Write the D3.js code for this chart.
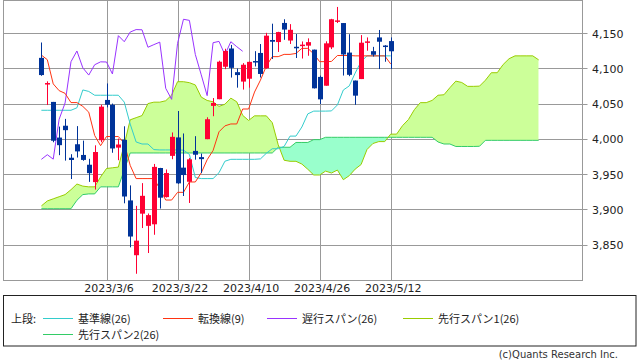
<!DOCTYPE html>
<html><head><meta charset="utf-8">
<script src="https://cdn.jsdelivr.net/npm/d3@7"></script>
<style>body{margin:0;background:#fff;} svg{display:block;}</style>
</head><body>
<svg id="c" width="639" height="362"></svg>
<script>
const dates = ["2023/2/16","2023/2/17","2023/2/21","2023/2/22","2023/2/23","2023/2/24","2023/2/27","2023/2/28","2023/3/1","2023/3/2",
"2023/3/3","2023/3/6","2023/3/7","2023/3/8","2023/3/9","2023/3/10","2023/3/13","2023/3/14","2023/3/15","2023/3/16",
"2023/3/17","2023/3/20","2023/3/21","2023/3/22","2023/3/23","2023/3/24","2023/3/27","2023/3/28","2023/3/29","2023/3/30",
"2023/3/31","2023/4/3","2023/4/4","2023/4/5","2023/4/6","2023/4/10","2023/4/11","2023/4/12","2023/4/13","2023/4/14",
"2023/4/17","2023/4/18","2023/4/19","2023/4/20","2023/4/21","2023/4/24","2023/4/25","2023/4/26","2023/4/27","2023/4/28",
"2023/5/1","2023/5/2","2023/5/3","2023/5/4","2023/5/5","2023/5/8","2023/5/9","2023/5/10","2023/5/11","2023/5/12"];

const open = [4114.75,4077.39,4052.35,4001.83,4018.60,3973.24,3992.36,3977.19,3963.34,3938.68,
3998.02,4055.15,4048.26,3987.55,3998.66,3912.77,3835.12,3894.01,3876.74,3878.93,
3958.69,3917.47,3975.89,4002.04,3959.21,3939.21,3982.93,3974.13,3999.53,4046.74,
4056.18,4102.20,4128.03,4094.50,4081.15,4085.20,4110.29,4121.72,4100.04,4140.11,
4137.17,4164.26,4139.33,4130.48,4132.14,4132.07,4126.43,4087.78,4075.29,4129.63,
4166.79,4164.10,4122.25,4082.61,4084.73,4136.98,4124.25,4143.74,4132.24,4138.54];
const high = [4136.54,4081.51,4052.35,4017.37,4028.30,3978.25,4018.05,3997.50,3971.73,3990.84,
4048.29,4078.49,4050.00,4000.41,4017.81,3934.05,3905.05,3937.29,3894.26,3964.46,
3958.91,3956.62,4009.08,4039.49,4007.66,3972.74,4003.83,3979.20,4030.59,4057.85,
4110.75,4127.66,4133.13,4099.69,4107.32,4109.50,4124.26,4134.37,4150.26,4163.19,
4151.72,4169.48,4162.57,4148.57,4138.02,4142.41,4126.43,4089.67,4138.24,4170.06,
4186.92,4164.10,4148.30,4082.61,4147.02,4143.74,4130.35,4154.28,4132.80,4143.74];
const low = [4089.37,4047.95,3995.19,3976.90,3969.19,3943.08,3973.55,3968.98,3939.05,3928.16,
3995.17,4044.61,3980.31,3969.76,3908.70,3846.32,3808.86,3873.63,3838.24,3864.11,
3901.27,3916.89,3971.19,3936.17,3919.05,3909.16,3970.49,3951.53,3999.53,4032.10,
4056.18,4098.79,4086.87,4072.56,4069.84,4072.55,4102.61,4086.94,4099.40,4113.20,
4123.18,4140.36,4134.49,4114.57,4113.86,4117.77,4071.38,4049.35,4075.29,4127.18,
4164.12,4089.72,4088.86,4048.28,4084.73,4124.91,4116.65,4098.92,4109.29,4099.12];
const close = [4090.41,4079.09,3997.34,3991.05,4012.32,3970.04,3982.24,3970.15,3951.39,3981.35,
4045.64,4048.42,3986.37,3992.01,3918.32,3861.59,3855.76,3919.29,3891.93,3960.28,
3916.64,3951.57,4002.87,3936.97,3948.72,3970.99,3977.53,3971.27,4027.81,4050.83,
4109.31,4124.51,4100.60,4090.38,4105.02,4109.11,4108.94,4091.95,4146.22,4137.64,
4151.32,4154.87,4154.52,4129.79,4133.52,4137.04,4071.63,4055.99,4135.35,4169.48,
4167.87,4119.58,4090.75,4061.22,4136.25,4138.12,4119.17,4137.64,4130.62,4124.08];

// 転換線(9)
const tenkan = [4118.7,4112.2,4077.9,4068.3,4064.5,4051.4,4051.4,4046.0,4037.8,4004.8,
3990.3,4003.3,4003.3,4003.3,3993.6,3962.4,3943.7,3943.7,3943.7,3943.7,
3929.4,3913.3,3913.3,3924.2,3924.2,3938.9,3938.9,3951.8,3970.4,3983.5,
4010.0,4018.4,4021.1,4021.1,4042.3,4042.3,4066.3,4083.2,4103.2,4116.5,
4116.5,4119.7,4119.7,4121.0,4128.2,4128.2,4120.4,4109.4,4109.4,4109.7,
4118.1,4118.1,4118.1,4117.6,4117.6,4117.6,4117.6,4117.6,4117.6,4106.2];
// 基準線(26)
const kijun = [4040.5,4040.5,4040.5,4040.5,4040.5,4040.5,4044.0,4069.3,4067.2,4061.8,
4061.8,4061.8,4061.8,4061.8,4052.1,4020.9,3995.6,3992.7,3992.7,3984.8,
3984.3,3984.3,3984.3,3984.3,3984.0,3978.0,3945.2,3943.7,3943.7,3943.7,
3952.0,3968.3,3971.0,3971.0,3971.0,3971.0,3971.0,3971.6,3979.6,3986.0,
3986.0,3989.2,4003.9,4003.9,4016.8,4035.4,4039.3,4039.3,4039.3,4039.6,
4048.0,4069.2,4075.0,4093.2,4109.5,4117.6,4117.6,4117.6,4117.6,4117.6];
// 遅行スパン(26)
const chikou = [3970.99,3977.53,3971.27,4027.81,4050.83,4109.31,4124.51,4100.60,4090.38,4105.02,
4109.11,4108.94,4091.95,4146.22,4137.64,4151.32,4154.87,4154.52,4129.79,4133.52,
4137.04,4071.63,4055.99,4135.35,4169.48,4167.87,4119.58,4090.75,4061.22,4136.25,
4138.12,4119.17,4137.64,4130.62,4124.08];
// 先行スパン1(26)
const senkouA = [3905,3912,3915,3918,3921,3928,3936,3933,3932,3932,
3946,3958,3959,3960,3992,4027,4030,4033,4050,4052,
4052,4054,4062,4081,4081,
4079.6,4076.4,4059.2,4054.4,4052.5,4046.0,4049.1,4057.7,4052.5,4033.3,
4026.1,4032.6,4032.6,4032.6,4022.9,3991.7,3969.7,3968.2,3968.2,3964.3,
3956.9,3948.8,3948.8,3954.3,3951.6,3955.8,3942.1,3947.8,3957.1,3963.6,
3984.9,3993.4,3996.1,3996.1,4006.7,4006.7,4018.7,4027.4,4041.4,4051.3,
4051.3,4054.5,4061.8,4062.5,4072.5,4081.8,4079.9,4074.4,4074.4,4074.7,
4083.1,4093.7,4093.7,4105.4,4113.6,4117.6,4117.6,4117.6,4117.6,4111.9];
// 先行スパン2(26)
const senkouB = [3901,3901,3901,3901,3901,3901,3913,3921,3922,3922,
3932,3932,3932,3932,3956,3980,3980,3980,3980,3980,
3980,3980,3980,3980,3980,
3980,3980,3980,3980,3980,3980,3980,3980,3980,3980,
3980,3980,3980,3980,3980,3988.1,3988.1,3988.1,3994.9,3994.9,
3994.9,3998.9,3998.9,4002.2,4002.2,4002.2,4002.2,4002.2,4002.2,4002.2,
4002.2,4002.2,4002.2,4002.2,4002.2,4002.2,4002.2,4002.2,4002.2,4002.2,
4002.2,4002.2,3995.6,3992.7,3992.7,3989.2,3989.2,3989.2,3989.2,3989.5,
3997.9,3997.9,3997.9,3997.9,3997.9,3997.9,3997.9,3997.9,3997.9,3997.9];

const xTickLabels = ["2023/3/6","2023/3/22","2023/4/10","2023/4/26","2023/5/12"];
const yTicks = [3850,3900,3950,4000,4050,4100,4150];

const legendItems = [
  {label:"基準線(26)", color:"#33cccc", x:43, row:0},
  {label:"転換線(9)", color:"#ff3311", x:163, row:0},
  {label:"遅行スパン(26)", color:"#9933ff", x:267, row:0},
  {label:"先行スパン1(26)", color:"#99cc00", x:403, row:0},
  {label:"先行スパン2(26)", color:"#33cc66", x:43, row:1}
];

const svg = d3.select("#c");
const L = 3.5, R = 582.5, T = 0.5, B = 280.5;
const x = d3.scaleLinear().domain([-6.4, 91.4]).range([L, R]);
const y = d3.scaleLinear().domain([3800, 4150]).range([280, 33]);
const FONT = "'DejaVu Sans', Verdana, sans-serif";
const JFONT = "'Noto Sans CJK JP', 'DejaVu Sans', sans-serif";

svg.append("defs").append("clipPath").attr("id","plot")
  .append("rect").attr("x",L).attr("y",T).attr("width",R-L).attr("height",B-T);

// gridlines
const gy = svg.append("g");
yTicks.forEach(v => {
  const yy = Math.round(y(v)) + 0.5;
  gy.append("line").attr("x1",L).attr("x2",R+5).attr("y1",yy).attr("y2",yy)
    .attr("stroke","#999").attr("stroke-width",1);
});
const xTickIdx = xTickLabels.map(l => dates.indexOf(l));
xTickIdx.forEach(i => {
  const xx = Math.round(x(i)) + 0.5;
  gy.append("line").attr("x1",xx).attr("x2",xx).attr("y1",T).attr("y2",B)
    .attr("stroke","#999").attr("stroke-width",1);
});

// cloud
const js = d3.range(senkouA.length);
const defs = svg.select("defs");
defs.append("clipPath").attr("id","above").append("path")
  .attr("d", d3.area().x(j=>x(j)).y0(0).y1(j=>y(senkouB[j]))(js));
defs.append("clipPath").attr("id","below").append("path")
  .attr("d", d3.area().x(j=>x(j)).y0(300).y1(j=>y(senkouB[j]))(js));
const cloud = d3.area().x(j=>x(j)).y0(j=>y(senkouB[j])).y1(j=>y(senkouA[j]));
const pg = svg.append("g").attr("clip-path","url(#plot)");
pg.append("path").attr("d", cloud(js)).attr("fill","#ccff99").attr("clip-path","url(#above)");
pg.append("path").attr("d", cloud(js)).attr("fill","#99ffcc").attr("clip-path","url(#below)");

const line = arr => d3.line().x((d,i)=>x(i)).y(d=>y(d))(arr);
pg.append("path").attr("d", line(senkouB)).attr("fill","none").attr("stroke","#33cc66").attr("stroke-width",1);
pg.append("path").attr("d", line(senkouA)).attr("fill","none").attr("stroke","#99cc00").attr("stroke-width",1);
pg.append("path").attr("d", line(kijun)).attr("fill","none").attr("stroke","#33cccc").attr("stroke-width",1);
pg.append("path").attr("d", line(chikou)).attr("fill","none").attr("stroke","#9933ff").attr("stroke-width",1);
pg.append("path").attr("d", line(tenkan)).attr("fill","none").attr("stroke","#ff3311").attr("stroke-width",1);

// candles
const cg = pg.append("g");
d3.range(dates.length).forEach(i => {
  const up = close[i] >= open[i];
  const col = up ? "#ff0033" : "#003399";
  const cx = Math.round(x(i));
  cg.append("rect").attr("x", cx).attr("width",1)
    .attr("y", y(high[i])).attr("height", Math.max(1, y(low[i]) - y(high[i])))
    .attr("fill", col);
  const top = y(Math.max(open[i], close[i]));
  const h = Math.max(1.5, Math.abs(y(open[i]) - y(close[i])));
  cg.append("rect").attr("x", cx - 2).attr("width", 5)
    .attr("y", top).attr("height", h).attr("fill", col);
});

// frame
svg.append("rect").attr("x",L).attr("y",T).attr("width",R-L).attr("height",B-T)
  .attr("fill","none").attr("stroke","#999").attr("stroke-width",1);

// y axis labels
const yAxis = d3.axisRight(y).tickValues(yTicks).tickFormat(d3.format(",")).tickSize(0).tickPadding(0);
const ya = svg.append("g").attr("transform","translate(592,0.5)").call(yAxis);
ya.select(".domain").remove();
ya.selectAll("text").attr("font-family",FONT).attr("font-size","11px").attr("fill","#222");

// x axis labels
const xAxis = d3.axisBottom(x).tickValues(xTickIdx).tickFormat(i => dates[i]).tickSize(0).tickPadding(4);
const xa = svg.append("g").attr("transform","translate(2,280)").call(xAxis);
xa.select(".domain").remove();
xa.selectAll("text").attr("font-family",FONT).attr("font-size","11px").attr("fill","#222");

// legend
svg.append("rect").attr("x",3.5).attr("y",295.5).attr("width",632.5).attr("height",50.5)
  .attr("fill","none").attr("stroke","#222").attr("stroke-width",1);
const rowY = [318.5, 334.5];
svg.append("text").attr("x",11).attr("y",rowY[0]+4).text("上段:")
  .attr("font-family",JFONT).attr("font-size","11px").attr("fill","#222");
legendItems.forEach(it => {
  const yy = rowY[it.row];
  svg.append("line").attr("x1",it.x).attr("x2",it.x+30).attr("y1",yy).attr("y2",yy)
    .attr("stroke",it.color).attr("stroke-width",1);
  svg.append("text").attr("x",it.x+35).attr("y",yy+4).text(it.label)
    .attr("font-family",JFONT).attr("font-size","11px").attr("fill","#222");
});
svg.append("text").attr("x",618).attr("y",358).attr("text-anchor","end")
  .text("(c)Quants Research Inc.").attr("font-family",FONT).attr("font-size","10px").attr("fill","#333");
</script>
</body></html>
